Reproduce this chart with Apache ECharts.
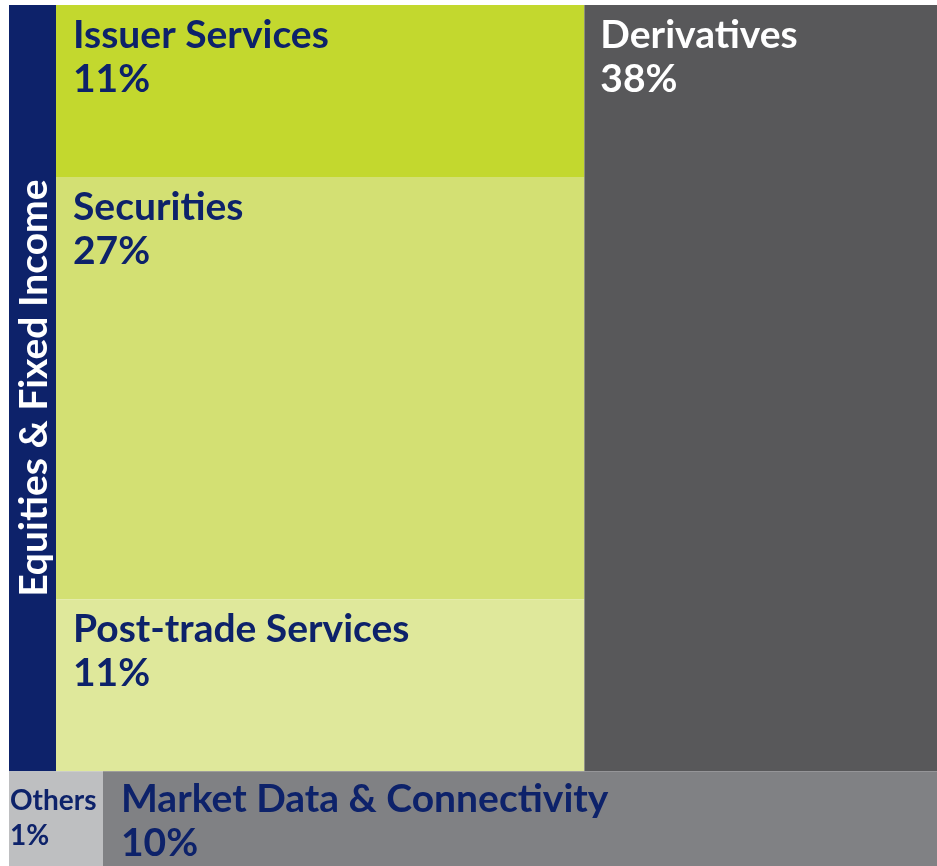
<!DOCTYPE html>
<html>
<head>
<meta charset="utf-8">
<script src="https://cdn.jsdelivr.net/npm/echarts@6/dist/echarts.min.js"></script>
<style>
html, body { margin: 0; padding: 0; background: #ffffff; }
#chart { width: 937px; height: 866px; }
</style>
</head>
<body>
<div id="chart"></div>
<script>
// ---- Data (revenue shares, %) ----
const groupName = 'Equities & Fixed Income';
const groupItems = ['Issuer Services', 'Securities', 'Post-trade Services'];
const groupShares = [11, 27, 11];
const sideItems = ['Derivatives'];
const sideShares = [38];
const bottomItems = ['Others', 'Market Data & Connectivity'];
const bottomShares = [1, 10];

// ---- Styles ----
const NAVY = '#0d226a';
const groupColors = ['#c3d82e', '#d3e073', '#dfe89b'];
const sideColors = ['#58585a'];
const bottomColors = ['#bebfc1', '#808184'];
const HEADER_W = 47;          // px, width of the group header band
const MIN_CELL_W = 94;        // px, minimum width so a small cell's label stays readable
const GRID = { left: 9, right: 0, top: 5, bottom: 0 };
const CHART_W = 937;
const FONT = 'Lato';

// ---- Build layout table (axis units 0..100) from the shares ----
const sum = a => a.reduce((s, v) => s + v, 0);
const bottomTotal = sum(bottomShares);
const topH = 100 - bottomTotal;            // height of the top band
const sideW = sum(sideShares);             // width share of derivatives column
const groupW = 100 - sideW;
const groupTotal = sum(groupShares);
const minUnits = MIN_CELL_W / (CHART_W - GRID.left - GRID.right) * 100;

const table = [];
table.push([0, groupW, 0, topH, groupName, groupTotal, 'header', 0]);
let yCur = 0;
groupItems.forEach((n, i) => {
  const h = groupShares[i] / groupTotal * topH;
  table.push([0, groupW, yCur, yCur + h, n, groupShares[i], 'child', i]);
  yCur += h;
});
let xCur = groupW;
sideItems.forEach((n, i) => {
  const w = sideShares[i] / sum(sideShares) * sideW;
  table.push([xCur, xCur + w, 0, topH, n, sideShares[i], 'side', i]);
  xCur += w;
});
// bottom band: widths by share, small cells widened to the minimum width
const rawW = bottomShares.map(v => v / bottomTotal * 100);
const small = rawW.map(w => w < minUnits);
const fixedSum = small.reduce((s, f) => s + (f ? minUnits : 0), 0);
const freeShare = bottomShares.reduce((s, v, i) => s + (small[i] ? 0 : v), 0);
xCur = 0;
bottomItems.forEach((n, i) => {
  const w = small[i] ? minUnits : bottomShares[i] / freeShare * (100 - fixedSum);
  table.push([xCur, xCur + w, topH, 100, n, bottomShares[i], 'bottom', i]);
  xCur += w;
});

function renderItem(params, api) {
  const x0 = api.value(0), x1 = api.value(1), y0 = api.value(2), y1 = api.value(3);
  const name = api.value(4), share = api.value(5), kind = api.value(6), idx = api.value(7);
  const p0 = api.coord([x0, y0]);
  const p1 = api.coord([x1, y1]);
  let rx = p0[0], ry = p0[1], rw = p1[0] - p0[0], rh = p1[1] - p0[1];
  if (kind === 'header') {
    return {
      type: 'group',
      children: [
        { type: 'rect', shape: { x: rx, y: ry, width: HEADER_W, height: rh }, style: { fill: NAVY } },
        { type: 'text', x: rx + HEADER_W / 2 + 2, y: ry + rh / 2, rotation: Math.PI / 2,
          style: { text: name, fill: '#ffffff', fontFamily: FONT, fontWeight: 'bold', fontSize: 39,
                   align: 'center', verticalAlign: 'middle' } }
      ]
    };
  }
  let fill, textFill = NAVY, fs = 39, lh = 44, padX = 17, padY = 8;
  if (kind === 'child') { rx += HEADER_W; rw -= HEADER_W; fill = groupColors[idx]; }
  else if (kind === 'side') { fill = sideColors[idx]; textFill = '#ffffff'; padX = 16; }
  else {
    fill = bottomColors[idx];
    if (idx === 0) { fs = 28; lh = 35; padX = 1; padY = 12; }
    else { padX = 18; padY = 6; }
  }
  return {
    type: 'group',
    children: [
      { type: 'rect', shape: { x: rx, y: ry, width: rw, height: rh }, style: { fill: fill } },
      { type: 'text', x: rx + padX, y: ry + padY,
        style: { text: name + '\n' + share + '%', fill: textFill, fontFamily: FONT, fontWeight: 'bold',
                 fontSize: fs, lineHeight: lh, align: 'left', verticalAlign: 'top' } }
    ]
  };
}

const chart = echarts.init(document.getElementById('chart'), null, { renderer: 'canvas' });
chart.setOption({
  animation: false,
  grid: GRID,
  xAxis: { type: 'value', min: 0, max: 100, show: false },
  yAxis: { type: 'value', min: 0, max: 100, inverse: true, show: false },
  series: [{
    type: 'custom',
    renderItem: renderItem,
    encode: { x: [0, 1], y: [2, 3] },
    data: table
  }]
});
</script>
</body>
</html>
